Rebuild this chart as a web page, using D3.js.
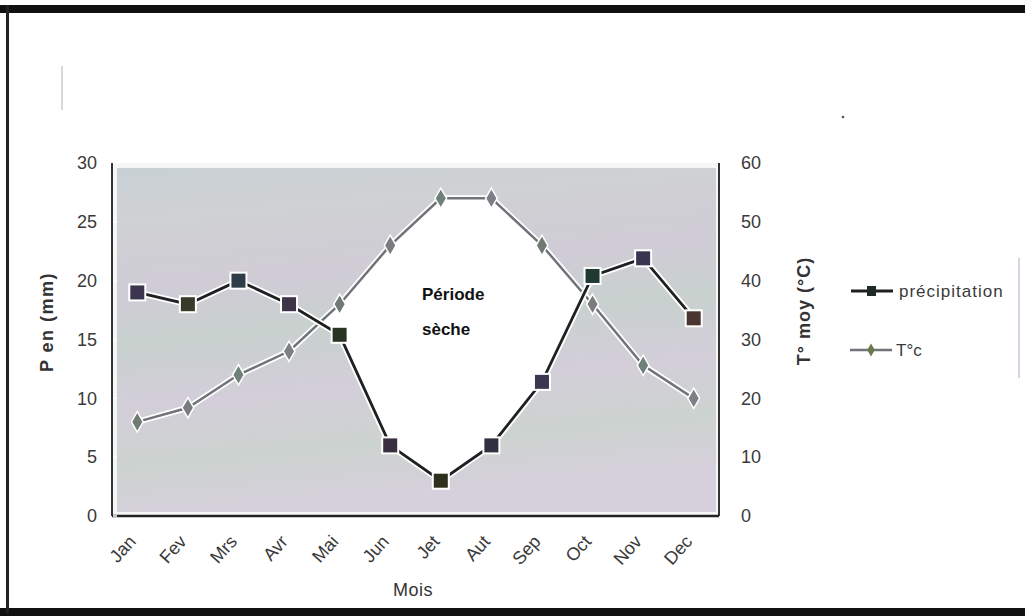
<!DOCTYPE html>
<html><head><meta charset="utf-8">
<script src="https://cdn.jsdelivr.net/npm/d3@7"></script>
<style>body{margin:0;background:#fff}svg{display:block}</style>
</head><body>
<svg id="c" width="1025" height="616"></svg>
<script>
const months = ["Jan","Fev","Mrs","Avr","Mai","Jun","Jet","Aut","Sep","Oct","Nov","Dec"];
const precipitation = [19, 18, 20, 18, 15.4, 6, 3, 6, 11.4, 20.4, 21.9, 16.8];
const temperature = [16, 18.4, 24, 28, 36, 46, 54, 54, 46, 36, 25.6, 20];
const leftTicks = [0,5,10,15,20,25,30];
const rightTicks = [0,10,20,30,40,50,60];
const seriesNames = ["précipitation","T°c"];

const svg = d3.select("#c");
const font = "'Liberation Sans', Arial, sans-serif";
const X0 = 112, X1 = 719, Y0 = 516, Y1 = 163;
const x = d3.scaleBand().domain(months).range([X0, X1]);
const cx = m => x(m) + x.bandwidth()/2;
const yL = d3.scaleLinear().domain([0,30]).range([Y0, Y1]);
const yR = d3.scaleLinear().domain([0,60]).range([Y0, Y1]);

// frame
svg.append("rect").attr("x",0).attr("y",5).attr("width",1025).attr("height",8).attr("fill","#111");
svg.append("rect").attr("x",0).attr("y",608).attr("width",1025).attr("height",8).attr("fill","#111");
svg.append("rect").attr("x",6).attr("y",5).attr("width",3).attr("height",608).attr("fill","#222");
svg.append("line").attr("x1",62).attr("x2",62).attr("y1",66).attr("y2",110).attr("stroke","#c8ccd4").attr("stroke-width",1.5);
svg.append("circle").attr("cx",843).attr("cy",117).attr("r",1.3).attr("fill","#555");

// background gradient
const defs = svg.append("defs");
const g = defs.append("linearGradient").attr("id","bg").attr("x1",0).attr("y1",0).attr("x2",0.15).attr("y2",1);
[["0%","#c9d1d6"],["15%","#cfd1d3"],["35%","#d0ccd6"],["50%","#c8d1ce"],["68%","#d3ced9"],["85%","#ccd3cf"],["100%","#d6d0dc"]]
 .forEach(([o,c]) => g.append("stop").attr("offset",o).attr("stop-color",c));
svg.append("rect").attr("x",X0).attr("y",Y1).attr("width",X1-X0).attr("height",Y0-Y1).attr("fill","#f4f6f8");
svg.append("rect").attr("x",X0+5).attr("y",Y1+5).attr("width",X1-X0-8).attr("height",Y0-Y1-9).attr("fill","url(#bg)");

// dry period: under temp line & above precip line
const precExt = [{x:X0,v:precipitation[0]}].concat(precipitation.map((v,i)=>({x:cx(months[i]),v}))).concat([{x:X1,v:precipitation[11]}]);
defs.append("clipPath").attr("id","abovePrec").append("path")
  .attr("d", d3.area().x(d=>d.x).y0(Y1).y1(d=>yL(d.v))(precExt));
const areaPts = temperature.map((t,i)=>({m:months[i],t}));
svg.append("path")
  .attr("d", d3.area().x(d=>cx(d.m)).y0(Y0).y1(d=>yR(d.t)-2)(areaPts))
  .attr("fill","#ffffff").attr("clip-path","url(#abovePrec)");

// axes
svg.append("line").attr("x1",X0).attr("x2",X0).attr("y1",Y1).attr("y2",Y0).attr("stroke","#333").attr("stroke-width",2);
svg.append("line").attr("x1",X1).attr("x2",X1).attr("y1",Y1).attr("y2",Y0).attr("stroke","#333").attr("stroke-width",2);
svg.append("line").attr("x1",X0).attr("x2",X1).attr("y1",Y0).attr("y2",Y0).attr("stroke","#222").attr("stroke-width",2.5);

const gl = svg.append("g").attr("transform",`translate(${X0},0)`).call(d3.axisLeft(yL).tickValues(leftTicks).tickSize(0).tickPadding(15));
gl.select(".domain").remove();
gl.selectAll("text").attr("font-family",font).attr("font-size",18).attr("fill","#3a3a3a");
const gr = svg.append("g").attr("transform",`translate(${X1},0)`).call(d3.axisRight(yR).tickValues(rightTicks).tickSize(0).tickPadding(22));
gr.select(".domain").remove();
gr.selectAll("text").attr("font-family",font).attr("font-size",18).attr("fill","#3a3a3a");
svg.selectAll(".lt").data(leftTicks).join("line").attr("x1",X0+1).attr("x2",X0+5).attr("y1",d=>yL(d)).attr("y2",d=>yL(d)).attr("stroke","#fff").attr("stroke-width",1.5);

// month labels
svg.selectAll(".ml").data(months).join("text")
  .attr("transform", d=>`translate(${cx(d)-5},${Y0+22}) rotate(-48)`)
  .attr("text-anchor","end").attr("dy","0.35em")
  .attr("font-family",font).attr("font-size",18).attr("fill","#3a3a3a").text(d=>d);

// titles
svg.append("text").attr("transform","translate(53,322) rotate(-90)").attr("text-anchor","middle")
  .attr("font-family",font).attr("font-size",18).attr("letter-spacing",1.5).attr("font-weight","bold").attr("fill","#333").text("P en (mm)");
svg.append("text").attr("transform","translate(810,311) rotate(-90)").attr("text-anchor","middle")
  .attr("font-family",font).attr("font-size",18).attr("letter-spacing",1).attr("font-weight","bold").attr("fill","#333").text("T° moy (°C)");
svg.append("text").attr("x",413).attr("y",596).attr("text-anchor","middle")
  .attr("font-family",font).attr("font-size",18).attr("letter-spacing",0.5).attr("fill","#333").text("Mois");
svg.append("text").attr("x",422).attr("y",300).attr("font-family",font).attr("font-size",17).attr("font-weight","bold").attr("fill","#111").text("Période");
svg.append("text").attr("x",422).attr("y",335).attr("font-family",font).attr("font-size",17).attr("font-weight","bold").attr("fill","#111").text("sèche");

// temperature line
const tLine = d3.line().x((d,i)=>cx(months[i])).y(d=>yR(d));
svg.append("path").attr("d",tLine(temperature)).attr("fill","none").attr("stroke","#fff").attr("stroke-width",6).attr("stroke-linejoin","round");
svg.append("path").attr("d",tLine(temperature)).attr("fill","none").attr("stroke","#707478").attr("stroke-width",2.5);
const diamond = d3.symbol().type(d3.symbolDiamond).size(120);
svg.selectAll(".td").data(temperature).join("path")
  .attr("transform",(d,i)=>`translate(${cx(months[i])},${yR(d)})`)
  .attr("d",diamond).attr("fill",(d,i)=>["#6f7a72","#7a7c80","#6f8078","#7d7f86"][i%4]).attr("stroke","#fff").attr("stroke-width",1.5);

// precipitation line
const pLine = d3.line().x((d,i)=>cx(months[i])).y(d=>yL(d));
svg.append("path").attr("d",pLine(precipitation)).attr("fill","none").attr("stroke","#fff").attr("stroke-width",6.5).attr("stroke-linejoin","round");
svg.append("path").attr("d",pLine(precipitation)).attr("fill","none").attr("stroke","#1e2022").attr("stroke-width",2.8);
const sq = 16;
const sqCols = ["#3b3550","#3a3a2c","#2f3d48","#3e3448","#2a3424","#3a2f40","#2e2f1c","#2f3040","#3c3650","#1f3a30","#3a3450","#4a3530"];
svg.selectAll(".ps").data(precipitation).join("rect")
  .attr("x",(d,i)=>cx(months[i])-sq/2).attr("y",d=>yL(d)-sq/2).attr("width",sq).attr("height",sq)
  .attr("fill",(d,i)=>sqCols[i]).attr("stroke","#fff").attr("stroke-width",2);

// legend
svg.append("line").attr("x1",1019).attr("x2",1019).attr("y1",258).attr("y2",378).attr("stroke","#c4cad8").attr("stroke-width",1.5);
const leg = svg.append("g");
leg.append("line").attr("x1",851).attr("x2",893).attr("y1",291).attr("y2",291).attr("stroke","#1e2022").attr("stroke-width",3);
leg.append("rect").attr("x",867).attr("y",286).attr("width",9).attr("height",10).attr("fill","#1e2a24");
leg.append("text").attr("x",899).attr("y",297).attr("font-family",font).attr("font-size",17).attr("letter-spacing",1).attr("fill","#3a3a3a").text(seriesNames[0]);
leg.append("line").attr("x1",850).attr("x2",892).attr("y1",350).attr("y2",350).attr("stroke","#707478").attr("stroke-width",2.5);
leg.append("path").attr("transform","translate(871,350)").attr("d",d3.symbol().type(d3.symbolDiamond).size(50)).attr("fill","#6b7a4a");
leg.append("text").attr("x",896).attr("y",356).attr("font-family",font).attr("font-size",17).attr("fill","#3a3a3a").text(seriesNames[1]);
</script>
</body></html>
